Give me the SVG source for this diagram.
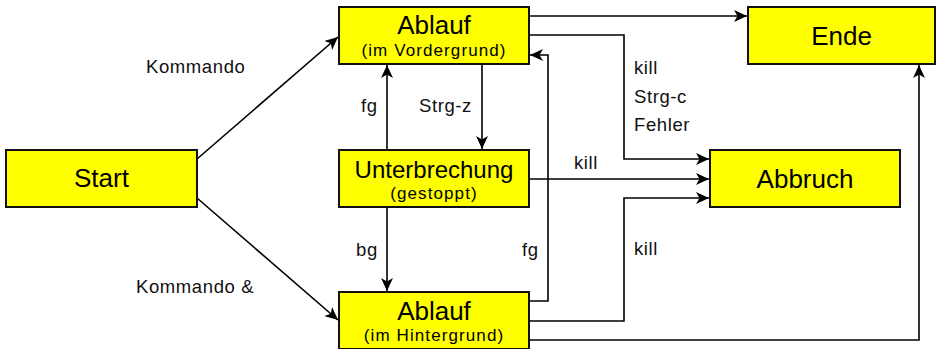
<svg xmlns="http://www.w3.org/2000/svg" width="937" height="349" viewBox="0 0 937 349">
  <style>
    .box { fill: #ffff00; stroke: #111; stroke-width: 2; }
    .big { font-family: "Liberation Sans", Arial, sans-serif; font-size: 26px; fill: #000; text-anchor: middle; }
    .sub { font-family: "Liberation Sans", Arial, sans-serif; font-size: 17px; letter-spacing: 1.1px; fill: #000; text-anchor: middle; }
    .lbl { font-family: "Liberation Sans", Arial, sans-serif; font-size: 18.5px; letter-spacing: 0.6px; fill: #111; }
    .edge { fill: none; stroke: #000; stroke-width: 1.6; marker-end: url(#arrow); }
  </style>
  <defs>
    <marker id="arrow" markerUnits="userSpaceOnUse" markerWidth="14" markerHeight="12" refX="13" refY="6" orient="auto">
      <path d="M0,0 L13,6 L0,12 L3.5,6 Z" fill="#000"/>
    </marker>
  </defs>

  <g id="connectors">
    <path class="edge" d="M197,159 L338,37"/>
    <path class="edge" d="M197,198 L338,320"/>
    <path class="edge" d="M387,150 V65"/>
    <path class="edge" d="M482,64 V149"/>
    <path class="edge" d="M387,207 V291"/>
    <path class="edge" d="M529,301 H548 V55 H530"/>
    <path class="edge" d="M529,16 H747"/>
    <path class="edge" d="M529,35 H624 V159 H709"/>
    <path class="edge" d="M529,179 H709"/>
    <path class="edge" d="M529,321 H624 V198 H709"/>
    <path class="edge" d="M529,340 H919 V65"/>
  </g>

  <g id="labels">
    <text class="lbl" x="146" y="73">Kommando</text>
    <text class="lbl" x="136" y="293">Kommando &amp;</text>
    <text class="lbl" x="361" y="112">fg</text>
    <text class="lbl" x="419" y="112">Strg-z</text>
    <text class="lbl" x="356" y="256">bg</text>
    <text class="lbl" x="522" y="256">fg</text>
    <text class="lbl" x="634" y="74">kill</text>
    <text class="lbl" x="634" y="102.5">Strg-c</text>
    <text class="lbl" x="634" y="131">Fehler</text>
    <text class="lbl" x="574" y="169">kill</text>
    <text class="lbl" x="634" y="255">kill</text>
  </g>

  <g id="start">
    <rect class="box" x="6" y="150" width="191" height="57"/>
    <text class="big" x="101.5" y="187">Start</text>
  </g>
  <g id="ablauf-vordergrund">
    <rect class="box" x="339" y="7" width="190" height="57"/>
    <text class="big" x="434" y="34">Ablauf</text>
    <text class="sub" x="434" y="55.5">(im Vordergrund)</text>
  </g>
  <g id="unterbrechung">
    <rect class="box" x="339" y="150" width="190" height="57"/>
    <text class="big" x="434" y="178" style="font-size:24px">Unterbrechung</text>
    <text class="sub" x="434" y="199">(gestoppt)</text>
  </g>
  <g id="ablauf-hintergrund">
    <rect class="box" x="339" y="292" width="190" height="57"/>
    <text class="big" x="434" y="319.5">Ablauf</text>
    <text class="sub" x="434" y="341">(im Hintergrund)</text>
  </g>
  <g id="ende">
    <rect class="box" x="748" y="7" width="187" height="57"/>
    <text class="big" x="841.5" y="45">Ende</text>
  </g>
  <g id="abbruch">
    <rect class="box" x="710" y="150" width="190" height="57"/>
    <text class="big" x="805" y="188">Abbruch</text>
  </g>
</svg>
